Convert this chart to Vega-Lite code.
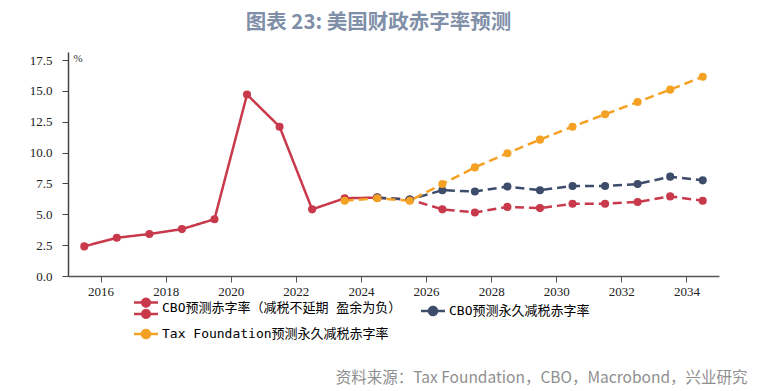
{
  "$schema": "https://vega.github.io/schema/vega-lite/v6.json",
  "autosize": {"type": "none"},
  "width": 651,
  "height": 224,
  "padding": {"left": 68, "top": 52, "right": 56, "bottom": 115},
  "background": "white",
  "title": {
    "text": "图表 23: 美国财政赤字率预测",
    "font": "Noto Sans CJK SC",
    "fontSize": 20.5,
    "fontWeight": "bold",
    "color": "#7f8fa8",
    "anchor": "middle",
    "frame": "group",
    "dx": -15,
    "offset": 19
  },
  "config": {
    "view": {"stroke": null},
    "axis": {"grid": false}
  },
  "data": {
    "values": [
      {"year": 2015.5, "value": 2.4, "series": "CBO预测赤字率（减税不延期 盈余为负）", "seg": "solid"},
      {"year": 2016.5, "value": 3.1, "series": "CBO预测赤字率（减税不延期 盈余为负）", "seg": "solid"},
      {"year": 2017.5, "value": 3.4, "series": "CBO预测赤字率（减税不延期 盈余为负）", "seg": "solid"},
      {"year": 2018.5, "value": 3.8, "series": "CBO预测赤字率（减税不延期 盈余为负）", "seg": "solid"},
      {"year": 2019.5, "value": 4.6, "series": "CBO预测赤字率（减税不延期 盈余为负）", "seg": "solid"},
      {"year": 2020.5, "value": 14.7, "series": "CBO预测赤字率（减税不延期 盈余为负）", "seg": "solid"},
      {"year": 2021.5, "value": 12.1, "series": "CBO预测赤字率（减税不延期 盈余为负）", "seg": "solid"},
      {"year": 2022.5, "value": 5.4, "series": "CBO预测赤字率（减税不延期 盈余为负）", "seg": "solid"},
      {"year": 2023.5, "value": 6.3, "series": "CBO预测赤字率（减税不延期 盈余为负）", "seg": "solid"},
      {"year": 2024.5, "value": 6.35, "series": "CBO预测赤字率（减税不延期 盈余为负）", "seg": "solid"},
      {"year": 2024.5, "value": 6.35, "series": "CBO预测赤字率（减税不延期 盈余为负）", "seg": "dash"},
      {"year": 2025.5, "value": 6.2, "series": "CBO预测赤字率（减税不延期 盈余为负）", "seg": "dash"},
      {"year": 2026.5, "value": 5.4, "series": "CBO预测赤字率（减税不延期 盈余为负）", "seg": "dash"},
      {"year": 2027.5, "value": 5.15, "series": "CBO预测赤字率（减税不延期 盈余为负）", "seg": "dash"},
      {"year": 2028.5, "value": 5.6, "series": "CBO预测赤字率（减税不延期 盈余为负）", "seg": "dash"},
      {"year": 2029.5, "value": 5.5, "series": "CBO预测赤字率（减税不延期 盈余为负）", "seg": "dash"},
      {"year": 2030.5, "value": 5.85, "series": "CBO预测赤字率（减税不延期 盈余为负）", "seg": "dash"},
      {"year": 2031.5, "value": 5.85, "series": "CBO预测赤字率（减税不延期 盈余为负）", "seg": "dash"},
      {"year": 2032.5, "value": 6.0, "series": "CBO预测赤字率（减税不延期 盈余为负）", "seg": "dash"},
      {"year": 2033.5, "value": 6.45, "series": "CBO预测赤字率（减税不延期 盈余为负）", "seg": "dash"},
      {"year": 2034.5, "value": 6.1, "series": "CBO预测赤字率（减税不延期 盈余为负）", "seg": "dash"},
      {"year": 2024.5, "value": 6.35, "series": "CBO预测永久减税赤字率", "seg": "dash"},
      {"year": 2025.5, "value": 6.2, "series": "CBO预测永久减税赤字率", "seg": "dash"},
      {"year": 2026.5, "value": 6.95, "series": "CBO预测永久减税赤字率", "seg": "dash"},
      {"year": 2027.5, "value": 6.85, "series": "CBO预测永久减税赤字率", "seg": "dash"},
      {"year": 2028.5, "value": 7.25, "series": "CBO预测永久减税赤字率", "seg": "dash"},
      {"year": 2029.5, "value": 6.95, "series": "CBO预测永久减税赤字率", "seg": "dash"},
      {"year": 2030.5, "value": 7.3, "series": "CBO预测永久减税赤字率", "seg": "dash"},
      {"year": 2031.5, "value": 7.3, "series": "CBO预测永久减税赤字率", "seg": "dash"},
      {"year": 2032.5, "value": 7.45, "series": "CBO预测永久减税赤字率", "seg": "dash"},
      {"year": 2033.5, "value": 8.05, "series": "CBO预测永久减税赤字率", "seg": "dash"},
      {"year": 2034.5, "value": 7.75, "series": "CBO预测永久减税赤字率", "seg": "dash"},
      {"year": 2023.5, "value": 6.1, "series": "Tax Foundation预测永久减税赤字率", "seg": "dash"},
      {"year": 2024.5, "value": 6.3, "series": "Tax Foundation预测永久减税赤字率", "seg": "dash"},
      {"year": 2025.5, "value": 6.1, "series": "Tax Foundation预测永久减税赤字率", "seg": "dash"},
      {"year": 2026.5, "value": 7.45, "series": "Tax Foundation预测永久减税赤字率", "seg": "dash"},
      {"year": 2027.5, "value": 8.8, "series": "Tax Foundation预测永久减税赤字率", "seg": "dash"},
      {"year": 2028.5, "value": 9.95, "series": "Tax Foundation预测永久减税赤字率", "seg": "dash"},
      {"year": 2029.5, "value": 11.05, "series": "Tax Foundation预测永久减税赤字率", "seg": "dash"},
      {"year": 2030.5, "value": 12.1, "series": "Tax Foundation预测永久减税赤字率", "seg": "dash"},
      {"year": 2031.5, "value": 13.1, "series": "Tax Foundation预测永久减税赤字率", "seg": "dash"},
      {"year": 2032.5, "value": 14.1, "series": "Tax Foundation预测永久减税赤字率", "seg": "dash"},
      {"year": 2033.5, "value": 15.1, "series": "Tax Foundation预测永久减税赤字率", "seg": "dash"},
      {"year": 2034.5, "value": 16.15, "series": "Tax Foundation预测永久减税赤字率", "seg": "dash"}
    ]
  },
  "encoding": {
    "x": {
      "field": "year",
      "type": "quantitative",
      "scale": {"domain": [2015, 2035], "nice": false, "zero": false},
      "axis": {
        "values": [2016, 2018, 2020, 2022, 2024, 2026, 2028, 2030, 2032, 2034],
        "format": "d",
        "labelFont": "Liberation Serif",
        "labelFontSize": 13,
        "labelColor": "#222222",
        "domainColor": "#555555",
        "domainWidth": 1.5,
        "tickColor": "#555555",
        "tickSize": 6,
        "labelPadding": 3,
        "title": "资料来源：Tax Foundation，CBO，Macrobond，兴业研究",
        "titleFont": "Noto Sans CJK SC",
        "titleFontSize": 15.5,
        "titleFontWeight": "normal",
        "titleColor": "#8f8f8f",
        "titleX": 679,
        "titleY": 101,
        "titleAlign": "right",
        "titleBaseline": "middle"
      }
    },
    "y": {
      "field": "value",
      "type": "quantitative",
      "scale": {"domain": [0, 18.15], "nice": false},
      "axis": {
        "values": [0, 2.5, 5, 7.5, 10, 12.5, 15, 17.5],
        "format": ".1f",
        "labelFont": "Liberation Serif",
        "labelFontSize": 13,
        "labelColor": "#222222",
        "domainColor": "#444444",
        "domainWidth": 1.5,
        "tickColor": "#444444",
        "tickSize": 6,
        "labelPadding": 10,
        "title": "%",
        "titleAngle": 0,
        "titleFont": "Liberation Serif",
        "titleFontSize": 11,
        "titleFontWeight": "normal",
        "titleColor": "#333333",
        "titleX": 5,
        "titleY": 6,
        "titleAlign": "left",
        "titleBaseline": "middle"
      }
    },
    "color": {
      "field": "series",
      "type": "nominal",
      "scale": {
        "domain": ["CBO预测赤字率（减税不延期 盈余为负）", "CBO预测永久减税赤字率", "Tax Foundation预测永久减税赤字率"],
        "range": ["#C8394B", "#3E4C6C", "#F4A124"]
      },
      "legend": {
        "orient": "none",
        "direction": "horizontal",
        "legendX": 67,
        "legendY": 245,
        "columns": 2,
        "title": null,
        "padding": 0,
        "rowPadding": 0,
        "columnPadding": 14,
        "labelFont": "DejaVu Sans Mono, Noto Sans CJK SC",
        "labelFontSize": 13,
        "labelColor": "#000000",
        "labelLimit": 400,
        "labelOffset": 5,
        "symbolSize": 380,
        "symbolStrokeWidth": 2.5,
        "encode": {
          "symbols": {
            "update": {
              "shape": {"signal": "datum.value === 'CBO预测赤字率（减税不延期 盈余为负）' ? 'M-1.23,-0.58L1.23,-0.58M0.39,-0.58A0.39,0.39,0,1,1,-0.39,-0.58A0.39,0.39,0,1,1,0.39,-0.58ZM-1.23,0.58L1.23,0.58M0.39,0.58A0.39,0.39,0,1,1,-0.39,0.58A0.39,0.39,0,1,1,0.39,0.58Z' : 'M-1.23,0L1.23,0M0.41,0A0.41,0.41,0,1,1,-0.41,0A0.41,0.41,0,1,1,0.41,0Z'"},
              "fill": {"scale": "color", "field": "value"},
              "stroke": {"scale": "color", "field": "value"},
              "strokeDash": {"value": [1, 0]},
              "opacity": {"value": 1}
            }
          }
        }
      }
    }
  },
  "layer": [
    {
      "mark": {"type": "line", "strokeWidth": 2.5},
      "encoding": {
        "strokeDash": {
          "field": "seg",
          "type": "nominal",
          "scale": {"domain": ["solid", "dash"], "range": [[1, 0], [9, 5]]},
          "legend": null
        }
      }
    },
    {
      "mark": {"type": "point", "filled": true, "size": 65, "opacity": 1}
    }
  ]
}
